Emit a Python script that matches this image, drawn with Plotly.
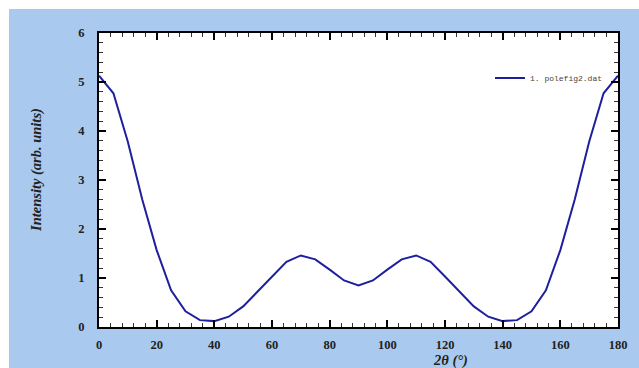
import plotly.graph_objects as go

# Diffraction angle (degrees) and measured intensity
two_theta = [0, 5, 10, 15, 20, 25, 30, 35, 40, 45, 50, 55, 60, 65, 70, 75, 80, 85, 90,
             95, 100, 105, 110, 115, 120, 125, 130, 135, 140, 145, 150, 155, 160, 165, 170, 175, 180]
intensity = [5.13, 4.77, 3.78, 2.60, 1.57, 0.75, 0.32, 0.14, 0.12, 0.21, 0.42, 0.72, 1.03, 1.33, 1.46, 1.38, 1.17, 0.95, 0.85,
             0.95, 1.17, 1.38, 1.46, 1.33, 1.03, 0.72, 0.42, 0.21, 0.12, 0.14, 0.32, 0.75, 1.57, 2.60, 3.78, 4.77, 5.13]
series_name = "1. polefig2.dat"
x_ticks = [0, 20, 40, 60, 80, 100, 120, 140, 160, 180]
y_ticks = [0, 1, 2, 3, 4, 5, 6]

W, H = 639, 368
L, R, T, B = 99, 21, 33, 41
pw, ph = W - L - R, H - T - B

bg_blue = "#a9caee"
tick_font = dict(family="Liberation Serif", size=12.5, color="#222222", weight="bold")
title_font = dict(family="Liberation Serif", size=14.5, color="#222222",
                  weight="bold", style="italic")

fig = go.Figure()
fig.add_trace(go.Scatter(
    x=two_theta, y=intensity, mode="lines", name=series_name,
    line=dict(color="#1f1f9e", width=2),
))

axis_common = dict(
    showline=True, linecolor="black", linewidth=2, mirror="allticks",
    ticks="inside", ticklen=7, tickwidth=2, tickcolor="black",
    showgrid=False, zeroline=False, tickfont=tick_font,
)
fig.update_xaxes(range=[0, 180], tickvals=x_ticks, ticklabelstandoff=5,
                 minor=dict(ticks="inside", ticklen=4, tickwidth=1, dtick=4, tickcolor="#333"),
                 **axis_common)
fig.update_yaxes(range=[0, 6], tickvals=y_ticks, ticklabelstandoff=10,
                 minor=dict(ticks="inside", ticklen=4, tickwidth=1, dtick=0.2, tickcolor="#333"),
                 **axis_common)

# white strips along the top and left edges of the page
fig.add_shape(type="rect", xref="paper", yref="paper", layer="below",
              x0=-L / pw - 0.01, x1=(W - L) / pw + 0.01,
              y0=(H - B - 9) / ph, y1=(H - B) / ph + 0.01,
              fillcolor="white", line=dict(width=0))
fig.add_shape(type="rect", xref="paper", yref="paper", layer="below",
              x0=-L / pw - 0.01, x1=(9 - L) / pw,
              y0=-B / ph - 0.01, y1=(H - B) / ph + 0.01,
              fillcolor="white", line=dict(width=0))

fig.add_annotation(text="2θ (°)", xref="paper", yref="paper",
                   x=(450 - L) / pw, y=-(360 - (H - B)) / ph, showarrow=False,
                   xanchor="center", yanchor="middle", font=title_font)
fig.add_annotation(text="Intensity (arb. units)", xref="paper", yref="paper",
                   x=(36 - L) / pw, y=((H - B) - 170) / ph, showarrow=False, textangle=-90,
                   xanchor="center", yanchor="middle", font=title_font)

fig.update_layout(
    width=W, height=H,
    margin=dict(l=L, r=R, t=T, b=B),
    paper_bgcolor=bg_blue, plot_bgcolor="white",
    showlegend=True,
    legend=dict(x=(490 - L) / pw, y=((H - B) - 78) / ph, xanchor="left", yanchor="middle",
                bgcolor="rgba(0,0,0,0)", borderwidth=0,
                font=dict(family="Liberation Mono", size=8, color="#444444")),
)

fig.write_html("out.html")
